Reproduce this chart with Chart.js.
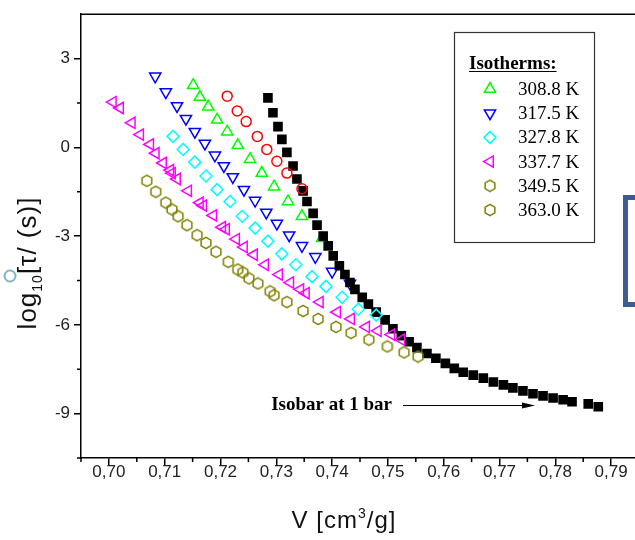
<!DOCTYPE html>
<html><head><meta charset="utf-8">
<script src="https://cdn.jsdelivr.net/npm/chart.js@4"></script>
<style>
html,body{margin:0;padding:0;background:#fff;overflow:hidden;width:635px;height:540px}
#wrap{position:relative;width:660px;height:540px}
canvas{display:block}
</style></head><body>
<div id="wrap"><canvas id="c" width="660" height="540"></canvas></div>
<script>
// ---- data (V in cm3/g, log10 tau) ----
const isobarV = [0.7285,0.7294,0.7303,0.7310,0.7319,0.7330,0.7337,0.7348,0.7355,0.7366,0.7373,0.7384,0.7393,0.7402,0.7413,0.7423,0.7432,0.7441,0.7454,0.7465,0.7479,0.7495,0.7509,0.7524,0.7538,0.7552,0.7570,0.7586,0.7603,0.7619,0.7635,0.7653,0.7671,0.7689,0.7707,0.7724,0.7742,0.7760,0.7778,0.7796,0.7814,0.7830,0.7859,0.7877];
const isobarLog = [1.67,1.17,0.70,0.27,-0.17,-0.63,-1.07,-1.47,-1.83,-2.23,-2.63,-3.00,-3.33,-3.67,-4.00,-4.30,-4.57,-4.80,-5.07,-5.30,-5.57,-5.83,-6.13,-6.37,-6.57,-6.77,-6.97,-7.13,-7.30,-7.47,-7.60,-7.70,-7.80,-7.93,-8.03,-8.13,-8.23,-8.33,-8.40,-8.47,-8.53,-8.60,-8.67,-8.77];

const t3088V = [0.7151,0.7163,0.7178,0.7194,0.7212,0.7231,0.7253,0.7274,0.7296,0.7321,0.7346,0.7382];
const t3088Log = [2.10,1.70,1.37,0.93,0.53,0.07,-0.40,-0.87,-1.33,-1.83,-2.33,-3.07];

const redV = [0.7212,0.7230,0.7246,0.7266,0.7283,0.7301,0.7319,0.7346];
const redLog = [1.73,1.23,0.87,0.37,-0.07,-0.47,-0.87,-1.40];

const t3175V = [0.7083,0.7102,0.7122,0.7138,0.7154,0.7172,0.7190,0.7206,0.7222,0.7242,0.7262,0.7282,0.7301,0.7323,0.7346,0.7370,0.7400,0.7432];
const t3175Log = [2.40,1.87,1.40,0.97,0.53,0.13,-0.27,-0.63,-1.00,-1.43,-1.80,-2.20,-2.57,-2.97,-3.33,-3.70,-4.20,-4.60];

const t3278V = [0.7115,0.7133,0.7154,0.7174,0.7194,0.7217,0.7239,0.7262,0.7285,0.7310,0.7335,0.7364,0.7389,0.7418,0.7447,0.7479];
const t3278Log = [0.37,-0.07,-0.50,-0.97,-1.43,-1.83,-2.33,-2.73,-3.17,-3.60,-3.97,-4.37,-4.70,-5.07,-5.47,-5.67];

const t3377V = [0.7007,0.7020,0.7041,0.7056,0.7074,0.7084,0.7097,0.7110,0.7113,0.7122,0.7142,0.7163,0.7169,0.7187,0.7203,0.7210,0.7228,0.7242,0.7260,0.7280,0.7305,0.7325,0.7343,0.7353,0.7378,0.7409,0.7434,0.7461,0.7482,0.7506,0.7524];
const t3377Log = [1.53,1.33,0.83,0.43,0.10,-0.20,-0.53,-0.77,-0.87,-1.07,-1.47,-1.87,-1.97,-2.30,-2.70,-2.77,-3.10,-3.37,-3.63,-3.97,-4.30,-4.57,-4.80,-4.93,-5.23,-5.57,-5.80,-6.07,-6.20,-6.33,-6.50];

const t3495V = [0.7068,0.7084,0.7102,0.7113,0.7124,0.7140,0.7158,0.7174,0.7192,0.7214,0.7231,0.7240,0.7251,0.7267,0.7289,0.7296,0.7319,0.7348,0.7375,0.7407,0.7434,0.7466,0.7499,0.7529,0.7554];
const t3495Log = [-1.13,-1.50,-1.87,-2.10,-2.33,-2.63,-2.97,-3.23,-3.53,-3.87,-4.13,-4.23,-4.43,-4.60,-4.87,-5.00,-5.23,-5.53,-5.80,-6.07,-6.27,-6.50,-6.73,-6.93,-7.07];

const legendLabels = ['308.8 K','317.5 K','327.8 K','337.7 K','349.5 K','363.0 K'];
const xTickValues = [0.70,0.71,0.72,0.73,0.74,0.75,0.76,0.77,0.78,0.79];
const xMinorTicks = [0.695,0.705,0.715,0.725,0.735,0.745,0.755,0.765,0.775,0.785];
const yTickValues = [3,0,-3,-6,-9];
const yMinorTicks = [1.5,-1.5,-4.5,-7.5,-10.5];

const pts = (vs, ls) => vs.map((v, i) => ({x: v, y: ls[i]}));

// hexagon marker
function makeHex(color){
  const c = document.createElement('canvas'); c.width = 14; c.height = 14;
  const g = c.getContext('2d'); g.strokeStyle = color; g.lineWidth = 1.5;
  g.beginPath();
  for (let k = 0; k < 6; k++) {
    const a = Math.PI/3*k - Math.PI/2;
    const px = 7 + 5.6*Math.cos(a), py = 7 + 5.6*Math.sin(a);
    k ? g.lineTo(px, py) : g.moveTo(px, py);
  }
  g.closePath(); g.stroke();
  return c;
}
const hexImg = makeHex('#808000');

const SANS = '"Liberation Sans", Arial, sans-serif';
const SERIF = '"Liberation Serif", "Times New Roman", serif';

const legendStyles = [
  {pointStyle:'triangle', rotation:0, radius:6.5, color:'#00ff00'},
  {pointStyle:'triangle', rotation:180, radius:6.5, color:'#0000ff'},
  {pointStyle:'rectRot', rotation:0, radius:6, color:'#00ffff'},
  {pointStyle:'triangle', rotation:-90, radius:6.5, color:'#ff00ff'},
  {pointStyle:hexImg, rotation:0, radius:6, color:'#808000'},
  {pointStyle:hexImg, rotation:0, radius:6, color:'#808000'}
];

const decor = {
  id: 'decor',
  afterDraw(chart) {
    const {ctx, chartArea: a, scales: {x, y}} = chart;
    ctx.save();
    // frame top/right
    ctx.strokeStyle = '#000'; ctx.lineWidth = 1.5;
    ctx.beginPath();
    ctx.moveTo(a.left, a.top); ctx.lineTo(a.right, a.top); ctx.lineTo(a.right, a.bottom);
    ctx.stroke();
    // minor ticks
    ctx.beginPath();
    xMinorTicks.forEach(v => { const px = x.getPixelForValue(v); ctx.moveTo(px, a.bottom); ctx.lineTo(px, a.bottom + 4); });
    yMinorTicks.forEach(v => { const py = y.getPixelForValue(v); ctx.moveTo(a.left, py); ctx.lineTo(a.left - 4, py); });
    ctx.stroke();

    // y title
    ctx.fillStyle = '#111';
    ctx.save();
    ctx.translate(27, 263); ctx.rotate(-Math.PI/2);
    const big = '26px ' + SANS, small = '14px ' + SANS;
    ctx.letterSpacing = '1px';
    ctx.font = big; const w1 = ctx.measureText('log').width; const w3 = ctx.measureText('[τ/ (s)]').width;
    ctx.font = small; const w2 = ctx.measureText('10').width;
    let sx = -(w1 + w2 + w3)/2;
    ctx.textBaseline = 'alphabetic'; ctx.textAlign = 'left';
    ctx.font = big; ctx.fillText('log', sx, 9);
    ctx.font = small; ctx.fillText('10', sx + w1, 15);
    ctx.font = big; ctx.fillText('[τ/ (s)]', sx + w1 + w2, 9);
    ctx.restore();

    // x title
    ctx.save();
    ctx.letterSpacing = '1px';
    ctx.font = '24px ' + SANS;
    const p1 = 'V [cm', p3 = '/g]';
    const wa = ctx.measureText(p1).width, wc = ctx.measureText(p3).width;
    ctx.font = '14px ' + SANS; const wb = ctx.measureText('3').width;
    let tx = 344 - (wa + wb + wc)/2, ty = 528;
    ctx.textAlign = 'left'; ctx.textBaseline = 'alphabetic';
    ctx.font = '24px ' + SANS; ctx.fillText(p1, tx, ty);
    ctx.font = '14px ' + SANS; ctx.fillText('3', tx + wa, ty - 10);
    ctx.font = '24px ' + SANS; ctx.fillText(p3, tx + wa + wb, ty);
    ctx.restore();

    // legend box
    ctx.strokeStyle = '#333'; ctx.lineWidth = 1.2;
    ctx.strokeRect(454.5, 32.5, 140, 210);
    ctx.fillStyle = '#000';
    ctx.font = 'bold 19px ' + SERIF; ctx.textBaseline = 'alphabetic';
    ctx.fillText('Isotherms:', 469, 69);
    const uw = ctx.measureText('Isotherms:').width;
    ctx.lineWidth = 1.2; ctx.strokeStyle = '#000';
    ctx.beginPath(); ctx.moveTo(469, 71.5); ctx.lineTo(469 + uw, 71.5); ctx.stroke();
    ctx.font = '19px ' + SERIF; ctx.textBaseline = 'middle';
    legendLabels.forEach((lab, i) => {
      const cy = 89 + i*24.2;
      const st = legendStyles[i];
      ctx.strokeStyle = st.color; ctx.fillStyle = 'rgba(0,0,0,0)'; ctx.lineWidth = 1.5;
      Chart.helpers.drawPoint(ctx, {pointStyle: st.pointStyle, rotation: st.rotation, radius: st.radius, borderWidth: 1.5}, 490, cy);
      ctx.fillStyle = '#000';
      ctx.fillText(lab, 518, cy + 1);
    });

    // isobar annotation
    ctx.font = 'bold 19px ' + SERIF; ctx.textAlign = 'right'; ctx.textBaseline = 'middle';
    ctx.fillStyle = '#000';
    ctx.fillText('Isobar at 1 bar', 392, 405);
    ctx.strokeStyle = '#000'; ctx.lineWidth = 1;
    ctx.beginPath(); ctx.moveTo(403, 405.5); ctx.lineTo(528, 405.5); ctx.stroke();
    ctx.beginPath(); ctx.moveTo(535, 405.5); ctx.lineTo(522, 402.5); ctx.lineTo(522, 408.5); ctx.closePath(); ctx.fill();

    // stray marks outside the plot
    ctx.strokeStyle = '#82b3c3'; ctx.lineWidth = 2;
    ctx.beginPath(); ctx.arc(10, 276, 5.5, 0, Math.PI*2); ctx.stroke();
    ctx.strokeStyle = '#3f5a96'; ctx.lineWidth = 5;
    ctx.beginPath(); ctx.moveTo(650, 197.5); ctx.lineTo(625.5, 197.5); ctx.lineTo(625.5, 304.5); ctx.lineTo(650, 304.5); ctx.stroke();
    ctx.restore();
  }
};

const mk = (data, style, color, radius, rot, fill) => ({
  data, pointStyle: style, rotation: rot || 0, pointRadius: radius,
  borderColor: color, backgroundColor: fill || 'rgba(0,0,0,0)', borderWidth: fill ? 0 : 1.5,
  showLine: false
});

new Chart(document.getElementById('c'), {
  type: 'scatter',
  data: {
    datasets: [
      mk(pts(redV, redLog), 'circle', '#ff0000', 5),
      mk(pts(t3278V, t3278Log), 'rectRot', '#00ffff', 6),
      mk(pts(t3377V, t3377Log), 'triangle', '#ff00ff', 6.5, -90),
      mk(pts(t3495V, t3495Log), hexImg, '#808000', 6),
      mk(pts(isobarV, isobarLog), 'rect', '#000', 6.8, 0, '#000'),
      mk(pts(t3175V, t3175Log), 'triangle', '#0000ff', 6.5, 180),
      mk(pts(t3088V, t3088Log), 'triangle', '#00ff00', 6.5)
    ]
  },
  options: {
    responsive: false, animation: false, devicePixelRatio: 1, events: [],
    layout: {padding: {top: 8, right: 21, left: 0, bottom: 0}},
    plugins: {legend: {display: false}, tooltip: {enabled: false}},
    scales: {
      x: {
        type: 'linear', min: 0.695, max: 0.795,
        afterBuildTicks: s => { s.ticks = xTickValues.map(v => ({value: v})); },
        afterFit: s => { s.height = 82; },
        ticks: {callback: v => v.toFixed(2).replace('.', ','), font: {family: SANS, size: 17}, color: '#222', padding: -3, maxRotation: 0, autoSkip: false},
        grid: {drawOnChartArea: false, drawTicks: true, tickLength: 7, color: '#000', lineWidth: 1.5},
        border: {display: true, color: '#000', width: 1.5}
      },
      y: {
        type: 'linear', min: -10.5, max: 4.5,
        afterBuildTicks: s => { s.ticks = yTickValues.map(v => ({value: v})); },
        afterFit: s => { s.width = 81; },
        ticks: {callback: v => String(v), font: {family: SANS, size: 17}, color: '#222', padding: 4, autoSkip: false},
        grid: {drawOnChartArea: false, drawTicks: true, tickLength: 7, color: '#000', lineWidth: 1.5},
        border: {display: true, color: '#000', width: 1.5}
      }
    }
  },
  plugins: [decor]
});
</script>
</body></html>
